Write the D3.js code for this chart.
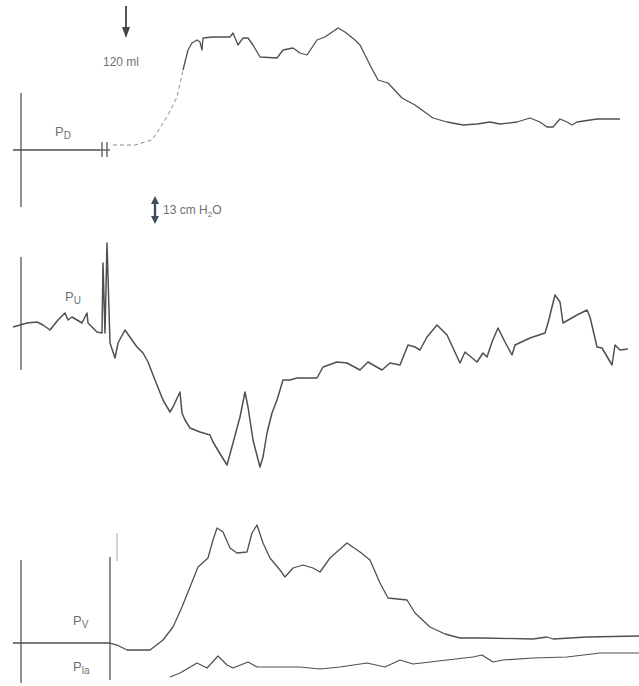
<!DOCTYPE html>
<html>
<head>
<meta charset="utf-8">
<script src="https://cdn.jsdelivr.net/npm/d3@7"></script>
<style>
  body { margin: 0; background: #fff; }
  text { font-family: "Liberation Sans", Arial, sans-serif; fill: #707070; }
</style>
</head>
<body>
<div id="chart"></div>
<script>
// time in s, pressures in cm H2O relative to each trace's baseline
const pdBase = [[0, 0], [17.4, 0]];
const pdRise = [[20, 2.5], [24.4, 2.5], [27.8, 5], [30.8, 16.5], [32.8, 26.5], [34, 40]];
const pdTrace = [[34, 40], [35, 50], [35.8, 53.5], [36.8, 55], [37.4, 54], [37.8, 50], [38, 56], [40, 56.5],
  [42.4, 56.5], [43.4, 56.5], [44, 58.5], [45, 52.5], [46, 56], [47, 56], [48, 52.5], [49.4, 46.5],
  [52.8, 46], [54, 50], [56, 51], [57.4, 48.5], [58.8, 47.5], [60.8, 55], [62.4, 56.5], [65, 61],
  [66.4, 59], [68.4, 55], [69.4, 52.5], [71.4, 42.5], [73, 35], [75, 33.5], [77.8, 26], [80.4, 22.5],
  [84, 16], [86.8, 14], [90, 12.5], [92.8, 13], [95.4, 14], [97.4, 13], [100.8, 14], [103.4, 16],
  [105.4, 14], [106.8, 11.5], [108, 11.5], [109.4, 15.5], [110.8, 14], [111.8, 12.5], [112.8, 14],
  [116.8, 15.5], [121.4, 15.5]];

const puTrace = [[0, -1], [2.8, 1], [4.8, 1.5], [6, 0], [7.4, -2.5], [9, 2.5], [10.4, 6], [11, 2.5],
  [11.8, 4], [12.8, 2.5], [13.8, 1], [14.8, 6], [15, 1], [16.8, -3.5], [17.8, -4], [18, 31], [18.4, -4],
  [18.8, 41], [19.4, -9], [20.4, -16.5], [21, -9], [22.4, -2.5], [23.8, -7.5], [24.8, -11], [26, -14],
  [27, -18.5], [28.4, -27.5], [30, -37.5], [31.4, -43.5], [32, -41], [33.4, -33.5], [33.8, -44],
  [34.4, -47.5], [35.4, -51.5], [37.4, -53.5], [39.4, -55], [40, -58.5], [41.8, -66], [42.8, -70],
  [44, -59], [45.4, -46], [46.4, -33.5], [47, -41], [48, -57.5], [49.4, -71], [50, -66], [50.8, -54],
  [51.8, -44], [52.8, -37.5], [54, -27.5], [55.4, -27.5], [56.8, -26.5], [60.8, -26.5], [62, -21],
  [64.8, -18.5], [66.8, -19], [69.4, -22.5], [71, -18.5], [73.8, -22.5], [75.4, -19], [77.4, -20],
  [79, -10], [80.4, -11], [81.4, -12.5], [82.8, -6], [84.8, 0], [86.8, -5], [89.4, -19], [90.4, -13.5],
  [92.8, -18.5], [94, -14], [94.8, -16], [95.8, -8.5], [97, -1.5], [98.4, -8.5], [99.8, -15],
  [100.4, -10], [103.4, -6.5], [106.4, -4], [107, 1], [108.4, 15], [109.4, 11.5], [110, 1],
  [112.8, 5], [114.8, 7.5], [115.4, 4], [116.8, -11], [117.8, -11.5], [119.8, -20], [120.4, -10],
  [121.4, -12.5], [123, -12]];

const pvTrace = [[0, 0], [19.4, 0], [20.8, -1], [22.8, -3.5], [27.4, -3.5], [30, 1.5], [32, 8],
  [33.8, 18], [35.4, 28], [37, 38], [39, 42.5], [40, 51.5], [40.8, 57.5], [42, 55.5], [43.4, 47.5],
  [44.8, 45], [46.8, 45.5], [47.8, 55], [48.8, 59], [50, 50], [51.4, 42.5], [53.4, 36.5], [54.4, 33],
  [56, 37.5], [58, 39], [60, 37.5], [61.4, 35.5], [63.4, 42.5], [66.8, 50], [69.4, 45.5], [71.4, 41.5],
  [73.4, 30], [75, 22.5], [78.8, 21.5], [80.4, 15], [83.4, 8], [86.4, 4.5], [89.4, 2.5], [94, 2.5],
  [104, 2], [106.8, 3], [108, 2], [114.8, 3], [125.2, 3.5]];

const plaTrace = [[31.4, -17], [33.4, -15], [36.8, -10], [38.8, -12.5], [41, -6.5], [42.8, -11],
  [44, -12.5], [47, -9.5], [48.8, -12], [52.8, -12], [57.4, -12], [61.4, -13], [65.4, -12], [70.8, -10],
  [74.4, -12], [77.4, -8.5], [80, -10.5], [86.8, -8.5], [92, -7], [93.8, -6], [96, -9.5], [98, -8.5],
  [104, -7.5], [110.8, -7], [117.4, -5], [125.2, -5]];

// calibration lines: [time, top, bottom]
const pdCal = [[1.6, 28.5, -28.5]];
const puCal = [[1.6, 34, -22.5]];
const pvCal = [[1.6, 41.5, -20], [19.4, 43, -18.5]];
const pvMark = [[20.8, 55, 41]];

const injectTime = 22.6;
const scaleBar = 13; // cm H2O

const width = 639, height = 686;
const svg = d3.select("#chart").append("svg")
  .attr("width", width).attr("height", height);

const defs = svg.append("defs");
defs.append("filter").attr("id", "soft")
  .append("feGaussianBlur").attr("stdDeviation", 0.5);

const x = d3.scaleLinear().domain([0, 125]).range([13, 638]);

// each trace gets its own baseline on the page, 2 px per cm H2O
const yScale = base => d3.scaleLinear().domain([-100, 100]).range([base + 200, base - 200]);
const yD = yScale(150), yU = yScale(325), yV = yScale(643);

const g = svg.append("g").attr("filter", "url(#soft)");

function trace(data, y, opts = {}) {
  const line = d3.line().x(d => x(d[0])).y(d => y(d[1]));
  return g.append("path")
    .attr("d", line(data))
    .attr("fill", "none")
    .attr("stroke", opts.color || "#505050")
    .attr("stroke-width", opts.w || 1.3)
    .attr("stroke-linejoin", "round")
    .attr("stroke-dasharray", opts.dash || null);
}

function cal(lines, y, color, w) {
  lines.forEach(c => {
    g.append("line")
      .attr("x1", x(c[0])).attr("x2", x(c[0]))
      .attr("y1", y(c[1])).attr("y2", y(c[2]))
      .attr("stroke", color || "#555").attr("stroke-width", w || 1.3);
  });
}

cal(pdCal, yD);
cal(puCal, yU);
cal(pvCal, yV);
cal(pvMark, yV, "#aaa", 1);

trace(pdBase, yD);
trace(pdRise, yD, {dash: "4,3", color: "#8a8a8a", w: 1});
trace(pdTrace, yD);
trace(puTrace, yU, {w: 1.5});
trace(pvTrace, yV);
trace(plaTrace, yV, {w: 1.2});

// "H" marker on PD baseline
[17.8, 18.8].forEach(t => {
  g.append("line").attr("x1", x(t)).attr("x2", x(t))
    .attr("y1", yD(4)).attr("y2", yD(-3.5))
    .attr("stroke", "#555").attr("stroke-width", 1.3);
});
g.append("line").attr("x1", x(17.4)).attr("x2", x(19.4))
  .attr("y1", yD(0)).attr("y2", yD(0))
  .attr("stroke", "#555").attr("stroke-width", 1.3);

// injection arrow
const ax = x(injectTime);
g.append("line").attr("x1", ax).attr("x2", ax).attr("y1", 6).attr("y2", 30)
  .attr("stroke", "#555").attr("stroke-width", 2);
g.append("path")
  .attr("d", `M${ax - 4},27 L${ax + 4},27 L${ax},38 Z`)
  .attr("fill", "#444");
svg.append("text").attr("x", ax - 23).attr("y", 66)
  .attr("font-size", 12).text("120 ml");

// pressure scale bar
const sx = x(28.4);
const sTop = yU(0) - 128, sBot = sTop + (yU(0) - yU(scaleBar));
g.append("line").attr("x1", sx).attr("x2", sx).attr("y1", sTop + 3).attr("y2", sBot - 3)
  .attr("stroke", "#3d4c63").attr("stroke-width", 2.4);
g.append("path").attr("d", `M${sx - 4},${sTop + 7} L${sx + 4},${sTop + 7} L${sx},${sTop - 1} Z`).attr("fill", "#3d4c63");
g.append("path").attr("d", `M${sx - 4},${sBot - 7} L${sx + 4},${sBot - 7} L${sx},${sBot + 1} Z`).attr("fill", "#3d4c63");
const st = svg.append("text").attr("x", sx + 8).attr("y", (sTop + sBot) / 2 + 4).attr("font-size", 12);
st.append("tspan").text(scaleBar + " cm H");
st.append("tspan").attr("font-size", 8).attr("dy", 3).text("2");
st.append("tspan").attr("dy", -3).text("O");

// trace labels
function label(xp, yp, main, sub) {
  const t = svg.append("text").attr("x", xp).attr("y", yp).attr("font-size", 13);
  t.append("tspan").text(main);
  t.append("tspan").attr("font-size", 10).attr("dy", 3).text(sub);
}
label(x(8.4), yD(0) - 14, "P", "D");
label(x(10.4), yU(0) - 24, "P", "U");
label(x(12), yV(0) - 18, "P", "V");
label(x(12), yV(0) + 28, "P", "la");
</script>
</body>
</html>
